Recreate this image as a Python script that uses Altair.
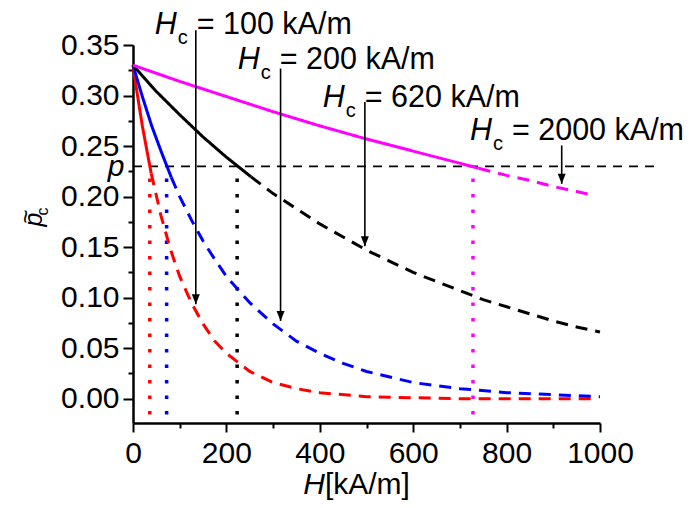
import altair as alt
import pandas as pd

# ---------------- data ----------------
red_solid_H = [0, 10, 20, 30, 39]
red_solid_p = [0.330, 0.299, 0.270, 0.245, 0.223]
red_dash_H = [39, 60, 80, 100, 125, 150, 175, 200, 250, 300, 350, 400, 500, 600, 700, 800, 900, 985]
red_dash_p = [0.223, 0.181, 0.148, 0.121, 0.095, 0.074, 0.057, 0.045, 0.027, 0.016, 0.010, 0.006, 0.002, 0.001, 0.000, 0.000, 0.000, 0.000]

blue_solid_H = [0, 20, 40, 60, 82]
blue_solid_p = [0.330, 0.299, 0.270, 0.245, 0.219]
blue_dash_H = [82, 100, 125, 150, 175, 200, 250, 300, 350, 400, 450, 500, 600, 700, 800, 900, 1000]
blue_dash_p = [0.219, 0.200, 0.177, 0.156, 0.138, 0.121, 0.095, 0.074, 0.057, 0.045, 0.035, 0.027, 0.016, 0.010, 0.006, 0.004, 0.002]

black_solid_H = [0, 50, 100, 150, 200, 253]
black_solid_p = [0.330, 0.304, 0.281, 0.259, 0.239, 0.2195]
black_dash_H = [253, 300, 350, 400, 450, 500, 550, 600, 650, 700, 750, 800, 850, 900, 950, 1000]
black_dash_p = [0.2195, 0.203, 0.188, 0.173, 0.160, 0.147, 0.136, 0.125, 0.116, 0.107, 0.098, 0.091, 0.084, 0.077, 0.071, 0.066]

mag_solid_H = [0, 100, 200, 300, 400, 500, 600, 700, 740]
mag_solid_p = [0.330, 0.314, 0.299, 0.284, 0.270, 0.257, 0.245, 0.233, 0.228]
mag_dash_H = [740, 800, 850, 900, 950, 980]
mag_dash_p = [0.228, 0.221, 0.216, 0.210, 0.205, 0.202]

series_names = ["red", "blue", "black", "magenta"]
series_colors = ["#ff0000", "#0000ff", "#000000", "#ff00ff"]

p_level = 0.23
p_line_H = [0, 1125]

cross_H = [36, 72, 223, 728]
cross_top = 0.218
cross_bottom = -0.024

arrow_H = [134.5, 316, 496.5, 918]
arrow_top = [0.3647, 0.3267, 0.2937, 0.2506]
arrow_tip = [0.0936, 0.077, 0.151, 0.2126]

label_H = [46.5, 224.3, 406.5, 721.5]
label_p = [0.3607, 0.326, 0.289, 0.2556]
label_texts = ["= 100 kA/m", "= 200 kA/m", "= 620 kA/m", "= 2000 kA/m"]

x_ticks = [0, 100, 200, 300, 400, 500, 600, 700, 800, 900, 1000]
y_ticks = [0.0, 0.025, 0.05, 0.075, 0.1, 0.125, 0.15, 0.175, 0.2, 0.225, 0.25, 0.275, 0.3, 0.325, 0.35, 0.23]

# ---------------- tables ----------------
rows = []
def add(name, seg, Hs, ps):
    for h, v in zip(Hs, ps):
        rows.append({"H": h, "p": v, "series": name, "seg": seg, "key": name + seg})

add("red", "solid", red_solid_H, red_solid_p)
add("red", "dashed", red_dash_H, red_dash_p)
add("blue", "solid", blue_solid_H, blue_solid_p)
add("blue", "dashed", blue_dash_H, blue_dash_p)
add("black", "solid", black_solid_H, black_solid_p)
add("black", "dashed", black_dash_H, black_dash_p)
add("magenta", "solid", mag_solid_H, mag_solid_p)
add("magenta", "dashed", mag_dash_H, mag_dash_p)
curves = pd.DataFrame(rows)

pline = pd.DataFrame({"H": p_line_H, "p": [p_level] * len(p_line_H)})
cross = pd.DataFrame({"H": cross_H, "p": [cross_top] * 4, "p2": [cross_bottom] * 4, "series": series_names})
arrows = pd.DataFrame({"H": arrow_H, "p": arrow_top, "p2": arrow_tip})
labels = pd.DataFrame({"H": label_H, "p": label_p, "t": label_texts})
xtitle = pd.DataFrame({"H": [411], "p": [-0.094]})
ytitle_p = pd.DataFrame({"H": [-194.6], "p": [0.1774]})
ytitle_tilde = pd.DataFrame({"H": [-211.3], "p": [0.1804]})
ytitle_c = pd.DataFrame({"H": [-182.1], "p": [0.1853]})

FONT = "Liberation Sans"

xs = alt.Scale(domain=[0, 1000], nice=False, zero=False)
ys = alt.Scale(domain=[-0.024, 0.35], nice=False, zero=False)
cs = alt.Scale(domain=series_names, range=series_colors)

x_axis = alt.Axis(
    values=x_ticks,
    labelExpr="datum.value % 200 == 0 ? format(datum.value, 'd') : ''",
    tickSize={"condition": {"test": "datum.value % 200 == 0", "value": 9}, "value": 5},
    labelFontSize=30, labelFont=FONT, labelColor="black",
    domainColor="black", domainWidth=2.5, tickColor="black", tickWidth=2,
    labelPadding=6, grid=False, title=None, labelFlush=False, labelOverlap=False,
)
y_axis = alt.Axis(
    values=y_ticks,
    labelExpr="abs(datum.value-0.23) < 1e-6 ? 'p' : (abs(datum.value*20 - round(datum.value*20)) < 1e-6 ? format(datum.value, '.2f') : '')",
    tickSize={"condition": {"test": "abs(datum.value*20 - round(datum.value*20)) < 1e-6", "value": 10}, "value": 5},
    tickOpacity={"condition": {"test": "abs(datum.value-0.23) < 1e-6", "value": 0}, "value": 1},
    labelFontStyle={"condition": {"test": "abs(datum.value-0.23) < 1e-6", "value": "italic"}, "value": "normal"},
    labelFontSize=30, labelFont=FONT, labelColor="black",
    domainColor="black", domainWidth=2.5, tickColor="black", tickWidth=2,
    labelPadding=4, grid=False, title=None, labelFlush=False, labelOverlap=False,
)

X = alt.X("H:Q", scale=xs, axis=x_axis)
Y = alt.Y("p:Q", scale=ys, axis=y_axis)

p_line = alt.Chart(pline).mark_line(color="black", strokeWidth=1.8, strokeDash=[9, 7]).encode(x=X, y=Y)

cross_lines = alt.Chart(cross).mark_rule(strokeWidth=3.5, strokeDash=[3.5, 12]).encode(
    x=X, y=Y, y2="p2:Q", color=alt.Color("series:N", scale=cs, legend=None)
)

curve_lines = alt.Chart(curves).mark_line(strokeWidth=3).encode(
    x=X, y=Y,
    color=alt.Color("series:N", scale=cs, legend=None),
    strokeDash=alt.StrokeDash("seg:N", scale=alt.Scale(domain=["solid", "dashed"], range=[[1, 0], [12, 8]]), legend=None),
    detail="key:N",
    order="H:Q",
)

arrow_lines = alt.Chart(arrows).mark_rule(color="black", strokeWidth=1.6).encode(x=X, y=Y, y2="p2:Q")
arrow_heads = alt.Chart(arrows).mark_point(
    shape="M-0.4,-1L0.4,-1L0,0Z", filled=True, color="black", size=400, opacity=1, strokeWidth=0
).encode(x=X, y=alt.Y("p2:Q", scale=ys, axis=y_axis))

ANN = 30.5
lab_H = alt.Chart(labels).mark_text(text="H", font=FONT, fontSize=ANN, fontStyle="italic", align="left", baseline="alphabetic", color="black").encode(x=X, y=Y)
lab_c = alt.Chart(labels).mark_text(text="c", font=FONT, fontSize=20, align="left", baseline="alphabetic", dx=23, dy=10, color="black").encode(x=X, y=Y)
lab_t = alt.Chart(labels).mark_text(font=FONT, fontSize=ANN, align="left", baseline="alphabetic", dx=42, color="black").encode(x=X, y=Y, text="t:N")

xt_H = alt.Chart(xtitle).mark_text(text="H", font=FONT, fontSize=30, fontStyle="italic", align="right", baseline="alphabetic", color="black").encode(x=X, y=Y)
xt_u = alt.Chart(xtitle).mark_text(text="[kA/m]", font=FONT, fontSize=30, align="left", baseline="alphabetic", color="black").encode(x=X, y=Y)

yt_p = alt.Chart(ytitle_p).mark_text(text="p", font=FONT, fontSize=25, fontStyle="italic", angle=270, align="center", baseline="alphabetic", color="black").encode(x=X, y=Y)
yt_t = alt.Chart(ytitle_tilde).mark_text(text="~", font=FONT, fontSize=24, angle=270, align="center", baseline="alphabetic", color="black").encode(x=X, y=Y)
yt_c = alt.Chart(ytitle_c).mark_text(text="c", font=FONT, fontSize=16, angle=270, align="center", baseline="alphabetic", color="black").encode(x=X, y=Y)

chart = alt.layer(
    p_line, cross_lines, curve_lines, arrow_lines, arrow_heads,
    lab_H, lab_c, lab_t, xt_H, xt_u, yt_p, yt_t, yt_c,
).properties(
    width=467, height=378,
    padding={"left": 125, "top": 37, "right": 85, "bottom": 77},
    autosize=alt.AutoSizeParams(type="none"),
    background="white",
).configure_view(stroke=None)

chart.save("out.html", embed_options={"renderer": "svg", "actions": False})
